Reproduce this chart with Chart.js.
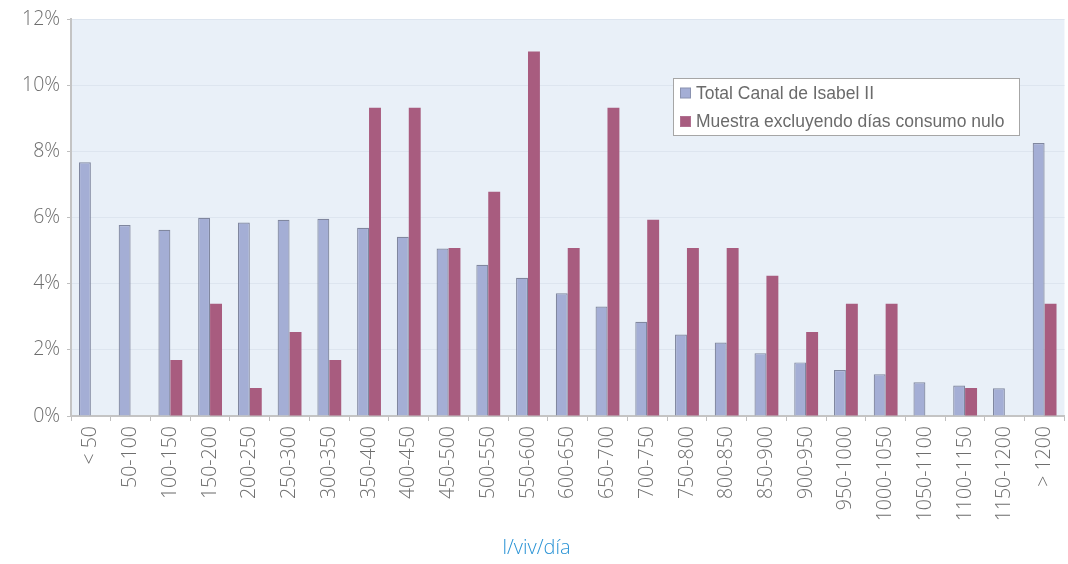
<!DOCTYPE html>
<html>
<head>
<meta charset="utf-8">
<script src="https://cdn.jsdelivr.net/npm/chart.js@4/dist/chart.umd.min.js"></script>
<style>
    html, body { margin: 0; padding: 0; background: #fff; overflow: hidden; }
    #wrap { position: relative; width: 1073px; height: 564px; }
</style>
</head>
<body>
<div id="wrap"><canvas id="chart"></canvas></div>
<script>
// consumption bands (l/viv/dia)
var categories = ['< 50', '50-100', '100-150', '150-200', '200-250', '250-300', '300-350',
    '350-400', '400-450', '450-500', '500-550', '550-600', '600-650', '650-700', '700-750',
    '750-800', '800-850', '850-900', '900-950', '950-1000', '1000-1050', '1050-1100',
    '1100-1150', '1150-1200', '> 1200'];

// % of households
var totalCanal = [7.67, 5.77, 5.63, 5.99, 5.85, 5.93, 5.96, 5.69, 5.42, 5.06, 4.57, 4.18,
    3.71, 3.31, 2.85, 2.46, 2.22, 1.90, 1.62, 1.39, 1.26, 1.02, 0.92, 0.84, 8.25];
var muestra = [0, 0, 1.69, 3.39, 0.85, 2.54, 1.69, 9.32, 9.32, 5.08, 6.78, 11.02,
    5.08, 9.32, 5.93, 5.08, 5.08, 4.24, 2.54, 3.39, 3.39, 0, 0.85, 0, 3.39];

var yTicks = [0, 2, 4, 6, 8, 10, 12];
var axisTitle = 'l/viv/día';

var tickFont = { family: '"Open Sans", sans-serif', size: 19.5, weight: 300 };
var tickColor = '#6e6e6e';

// plot background
var plotBg = {
    id: 'plotBg',
    beforeDraw: function(chart) {
        var a = chart.chartArea, ctx = chart.ctx;
        ctx.save();
        ctx.fillStyle = '#e9f0f8';
        ctx.fillRect(a.left, a.top, a.right - a.left, a.bottom - a.top);
        ctx.restore();
    }
};

// boxed legend inside the plot
var boxLegend = {
    id: 'boxLegend',
    afterDraw: function(chart) {
        var ctx = chart.ctx;
        var x = 673.5, y = 78.5, w = 346, h = 57;
        ctx.save();
        ctx.fillStyle = '#ffffff';
        ctx.fillRect(x, y, w, h);
        ctx.strokeStyle = '#a6a6a6';
        ctx.lineWidth = 1;
        ctx.strokeRect(x, y, w, h);
        ctx.font = '17.5px "Liberation Sans", Arial, sans-serif';
        ctx.textBaseline = 'middle';
        chart.data.datasets.forEach(function(ds, i) {
            var cy = 93 + i * 28.5;
            ctx.fillStyle = ds.backgroundColor;
            ctx.fillRect(680.5, cy - 5, 10, 10);
            ctx.strokeStyle = ds.legendBorder;
            ctx.strokeRect(680.5, cy - 5, 10, 10);
            ctx.fillStyle = '#6b6b6b';
            ctx.fillText(ds.label, 696, cy + 1);
        });
        ctx.restore();
    }
};

var ctx = document.getElementById('chart').getContext('2d');
var chart = new Chart(ctx, {
    type: 'bar',
    data: {
        labels: categories,
        datasets: [{
            label: 'Total Canal de Isabel II',
            data: totalCanal,
            backgroundColor: '#a4aed5',
            borderColor: '#80879f',
            legendBorder: '#8a92b0',
            borderWidth: 1.2,
            borderSkipped: 'bottom'
        }, {
            label: 'Muestra excluyendo días consumo nulo',
            data: muestra,
            backgroundColor: '#a85c7f',
            borderColor: '#a85c7f',
            legendBorder: '#b07090',
            borderWidth: 0
        }]
    },
    options: {
        responsive: true,
        maintainAspectRatio: false,
        animation: false,
        categoryPercentage: 0.6,
        barPercentage: 1.0,
        layout: { padding: { top: 19, right: 0, left: 0, bottom: 0 } },
        scales: {
            x: {
                grid: {
                    offset: true,
                    drawOnChartArea: false,
                    color: '#bfbfbf',
                    tickLength: 5
                },
                border: { color: '#c4c4c4', width: 2 },
                ticks: {
                    font: tickFont,
                    color: tickColor,
                    minRotation: 90,
                    maxRotation: 90,
                    autoSkip: false,
                    padding: 5
                },
                afterFit: function(scale) { scale.height = 120; }
            },
            y: {
                min: 0,
                max: 12,
                afterBuildTicks: function(scale) {
                    scale.ticks = yTicks.map(function(v) { return { value: v }; });
                },
                grid: {
                    color: function(c) { return c.tick && c.tick.value === 0 ? 'rgba(0,0,0,0)' : '#dde5ef'; },
                    tickLength: 4,
                    tickColor: '#bfbfbf'
                },
                border: { color: '#c4c4c4', width: 2 },
                ticks: {
                    font: tickFont,
                    color: tickColor,
                    padding: 7,
                    callback: function(v) { return v + '%'; }
                },
                afterFit: function(scale) { scale.width = 71; }
            }
        },
        plugins: {
            legend: { display: false },
            tooltip: { enabled: false },
            title: {
                display: true,
                position: 'bottom',
                text: axisTitle,
                color: '#2a93d5',
                font: { family: '"Open Sans", sans-serif', size: 20, weight: 300 },
                padding: { top: 0, bottom: 4 }
            }
        }
    },
    plugins: [plotBg, boxLegend]
});
</script>
</body>
</html>
